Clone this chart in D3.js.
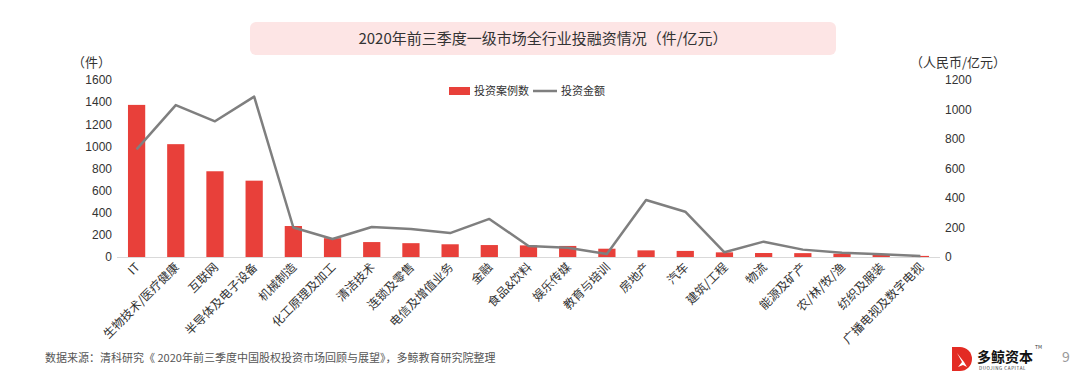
<!DOCTYPE html>
<html><head><meta charset="utf-8">
<script src="https://cdn.jsdelivr.net/npm/d3@7/dist/d3.min.js"></script>
<style>
body{margin:0;background:#fff;}
svg{display:block;font-family:"Noto Sans CJK SC","Noto Sans",sans-serif;}
</style></head>
<body>
<svg id="c" width="1080" height="386"></svg>
<script>
const categories = ["IT","生物技术/医疗健康","互联网","半导体及电子设备","机械制造","化工原理及加工","清洁技术","连锁及零售","电信及增值业务","金融","食品&饮料","娱乐传媒","教育与培训","房地产","汽车","建筑/工程","物流","能源及矿产","农/林/牧/渔","纺织及服装","广播电视及数字电视"];
const caseCounts = [1375,1020,775,690,280,170,135,125,115,108,105,100,75,60,55,42,36,35,30,20,10];
const amounts = [730,1030,920,1087,200,122,203,190,162,258,75,63,20,386,307,32,104,50,29,18,7];
const leftTicks = [0,200,400,600,800,1000,1200,1400,1600];
const rightTicks = [0,200,400,600,800,1000,1200];
const titleText = "2020年前三季度一级市场全行业投融资情况（件/亿元）";
const seriesNames = ["投资案例数","投资金额"];
const sourceText = "数据来源：清科研究《 2020年前三季度中国股权投资市场回顾与展望》，多鲸教育研究院整理";

const svg = d3.select("#c");
const x = d3.scaleBand().domain(categories).range([117,940]).paddingInner(0.56).paddingOuter(0.28);
const yL = d3.scaleLinear().domain([0,1600]).range([257,80]);
const yR = d3.scaleLinear().domain([0,1200]).range([257,80]);

// title box
svg.append("rect").attr("x",250).attr("y",22).attr("width",586).attr("height",33).attr("rx",6).attr("fill","#fde5e5");
svg.append("text").attr("x",543).attr("y",44).attr("text-anchor","middle").attr("font-size",15).attr("fill","#333").text(titleText);

// axes
const gL = svg.append("g").attr("transform","translate(112,0)")
  .call(d3.axisLeft(yL).tickValues(leftTicks).tickFormat(d3.format("d")).tickSize(0).tickPadding(0));
gL.select(".domain").remove();
gL.selectAll("text").attr("font-size",12).attr("fill","#333").attr("font-family","Liberation Sans, Arial, sans-serif");
const gR = svg.append("g").attr("transform","translate(945,0)")
  .call(d3.axisRight(yR).tickValues(rightTicks).tickFormat(d3.format("d")).tickSize(0).tickPadding(0));
gR.select(".domain").remove();
gR.selectAll("text").attr("font-size",12).attr("fill","#333").attr("font-family","Liberation Sans, Arial, sans-serif");

svg.append("text").attr("x",72).attr("y",67).attr("font-size",13).attr("fill","#333").text("（件）");
svg.append("text").attr("x",910).attr("y",67).attr("font-size",13).attr("fill","#333").text("（人民币/亿元）");

// bars
svg.append("g").selectAll("rect").data(categories).join("rect")
  .attr("x",d=>x(d)).attr("width",x.bandwidth())
  .attr("y",(d,i)=>yL(caseCounts[i])).attr("height",(d,i)=>yL(0)-yL(caseCounts[i]))
  .attr("fill","#e8403a");

// baseline
svg.append("line").attr("x1",117).attr("x2",940).attr("y1",257.5).attr("y2",257.5).attr("stroke","#d9d9d9").attr("stroke-width",1);

// line
const line = d3.line().x((d,i)=>x(categories[i])+x.bandwidth()/2).y(d=>yR(d));
svg.append("path").datum(amounts).attr("d",line).attr("fill","none").attr("stroke","#7f7f7f").attr("stroke-width",2.5).attr("stroke-linejoin","round");

// x labels
const gx = svg.append("g").attr("transform","translate(0,257)");
categories.forEach(c=>{
  const cx = x(c)+x.bandwidth()/2;
  gx.append("text").attr("transform",`translate(${cx+4},${11}) rotate(-45)`)
    .attr("text-anchor","end").attr("font-size",12).attr("fill","#333").text(c);
});

// legend
const lg = svg.append("g");
lg.append("rect").attr("x",449).attr("y",87).attr("width",21).attr("height",8).attr("fill","#e8403a");
lg.append("text").attr("x",474).attr("y",95).attr("font-size",11).attr("fill","#333").text(seriesNames[0]);
lg.append("line").attr("x1",533).attr("x2",557).attr("y1",91).attr("y2",91).attr("stroke","#7f7f7f").attr("stroke-width",2.5);
lg.append("text").attr("x",561).attr("y",95).attr("font-size",11).attr("fill","#333").text(seriesNames[1]);

// footer
svg.append("text").attr("x",45).attr("y",362).attr("font-size",11).attr("fill","#555").text(sourceText);

// logo
const logo = svg.append("g").attr("transform","translate(952,347)");
logo.append("path").attr("d","M0,0 H8 A12,12 0 0 1 8,24 H0 Z").attr("fill","#e32b23");
logo.append("path").attr("d","M5,6 L10,15 L6,20 L11,18 L15,20 L12,15 Z").attr("fill","#fff");
logo.append("text").attr("x",25).attr("y",15).attr("font-size",14).attr("font-weight","bold").attr("fill","#111").text("多鲸资本");
logo.append("text").attr("x",27).attr("y",23).attr("font-size",4.5).attr("fill","#333").attr("letter-spacing",0.6).text("DUOJING CAPITAL");
logo.append("text").attr("x",83).attr("y",2).attr("font-size",5).attr("fill","#333").text("TM");
svg.append("text").attr("x",1062).attr("y",362).attr("font-size",14).attr("fill","#999").text("9");
</script>
</body></html>
